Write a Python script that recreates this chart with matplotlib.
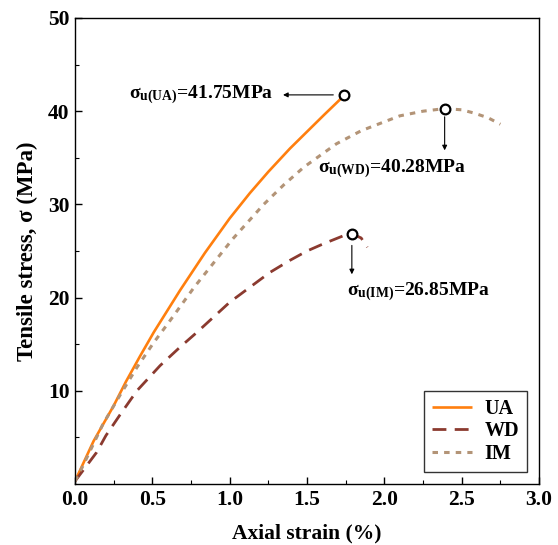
import matplotlib
matplotlib.use("Agg")
import matplotlib.pyplot as plt

plt.rcParams['font.family'] = ['Liberation Serif', 'DejaVu Serif']
plt.rcParams['font.weight'] = 'bold'
plt.rcParams['mathtext.fontset'] = 'custom'
plt.rcParams['mathtext.rm'] = 'Liberation Serif:bold'
plt.rcParams['mathtext.it'] = 'Liberation Serif:bold'
plt.rcParams['mathtext.bf'] = 'Liberation Serif:bold'
plt.rcParams['mathtext.default'] = 'rm'

# Data
ua_strain = [0.0, 0.12, 0.25, 0.33, 0.42, 0.51, 0.68, 0.84, 1.0, 1.13, 1.25, 1.39, 1.5, 1.61, 1.71, 1.74]
ua_stress = [0.3, 4.6, 8.4, 11.0, 13.7, 16.3, 20.8, 24.8, 28.5, 31.2, 33.5, 36.0, 37.8, 39.6, 41.2, 41.75]

wd_strain = [0.0, 0.14, 0.2, 0.29, 0.4, 0.55, 0.68, 0.79, 1.0, 1.13, 1.26, 1.39, 1.5, 1.61, 1.73, 1.79, 1.85, 1.89]
wd_stress = [0.3, 3.4, 5.2, 7.4, 10.0, 12.7, 14.7, 16.3, 19.5, 21.1, 22.7, 24.0, 25.0, 25.8, 26.6, 26.85, 26.4, 25.4]

im_strain = [0.0, 0.05, 0.18, 0.29, 0.4, 0.51, 0.6, 0.77, 1.02, 1.22, 1.35, 1.48, 1.69, 1.85, 1.99, 2.1, 2.25, 2.39, 2.5, 2.58, 2.67, 2.75]
im_stress = [0.3, 1.9, 6.4, 9.5, 12.5, 15.2, 17.2, 21.1, 26.3, 30.0, 32.1, 34.0, 36.5, 37.9, 38.8, 39.5, 40.0, 40.28, 40.15, 39.8, 39.3, 38.6]

peaks_x = [1.74, 2.39, 1.79]
peaks_y = [41.75, 40.28, 26.85]
peak_labels = [r'$\sigma_{u(UA)}$=41.75MPa', r'$\sigma_{u(WD)}$=40.28MPa', r'$\sigma_{u(IM)}$=26.85MPa']

fig = plt.figure(figsize=(5.58, 5.45), dpi=100)
ax = fig.add_axes([75/558, 61/545, 464/558, 466/545])

ax.plot(ua_strain, ua_stress, color='#FF7F0E', lw=1.9, label='UA', solid_capstyle='butt')
ax.plot(wd_strain, wd_stress, color='#8B3A2F', lw=2.0, dashes=(5, 3), label='WD')
ax.plot(im_strain, im_stress, color='#B39477', lw=2.2, dashes=(1.8, 2.0), label='IM')

ax.plot(peaks_x, peaks_y, 'o', ms=7, mfc='white', mec='black', mew=1.6, zorder=5)

fs = 14
arrowprops = dict(arrowstyle='-|>', color='black', lw=0.8, mutation_scale=7, shrinkA=0, shrinkB=0)
ax.annotate('', xy=(1.345, 41.75), xytext=(1.67, 41.75), arrowprops=arrowprops)
ax.text(1.28, 41.75, peak_labels[0], ha='right', va='center', fontsize=fs, fontweight='bold')
ax.annotate('', xy=(2.39, 35.8), xytext=(2.39, 39.4), arrowprops=arrowprops)
ax.text(2.05, 33.8, peak_labels[1], ha='center', va='center', fontsize=fs, fontweight='bold')
ax.annotate('', xy=(1.79, 22.5), xytext=(1.79, 25.6), arrowprops=arrowprops)
ax.text(2.22, 20.6, peak_labels[2], ha='center', va='center', fontsize=fs, fontweight='bold')

ax.set_xlim(0, 3.0)
ax.set_ylim(0, 50)
ax.set_xticks([0, 0.5, 1.0, 1.5, 2.0, 2.5, 3.0])
ax.set_xticks([0.25, 0.75, 1.25, 1.75, 2.25, 2.75], minor=True)
ax.set_yticks([10, 20, 30, 40, 50])
ax.set_yticks([5, 15, 25, 35, 45], minor=True)
ax.set_xticklabels(['0.0', '0.5', '1.0', '1.5', '2.0', '2.5', '3.0'])
ax.tick_params(which='both', direction='in', top=False, right=False, labelsize=15.5)
ax.tick_params(which='major', length=5, width=1, pad=4)
ax.tick_params(which='minor', length=3, width=0.8)
for lab in ax.get_xticklabels() + ax.get_yticklabels():
    lab.set_fontweight('bold')
for s in ax.spines.values():
    s.set_linewidth(1.0)

ax.set_xlabel('Axial strain (%)', fontsize=15.5, fontweight='bold', labelpad=10)
ax.set_ylabel('Tensile stress, σ (MPa)', fontsize=16.5, fontweight='bold', labelpad=7)

leg = ax.legend(loc='lower right', fontsize=14.5, frameon=True, fancybox=False,
                edgecolor='black', handlelength=2.0, handletextpad=0.6,
                borderaxespad=0.6, labelspacing=0.12, borderpad=0.4)
leg.get_frame().set_linewidth(1.0)
for t in leg.get_texts():
    t.set_fontweight('bold')

fig.savefig('out.png', dpi=100)
